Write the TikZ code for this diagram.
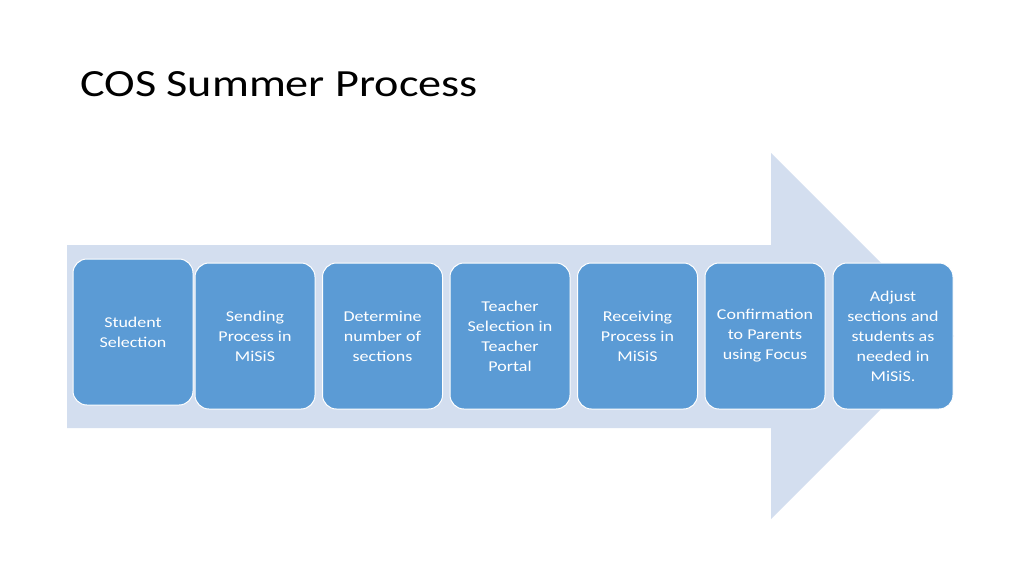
\documentclass[tikz,border=0pt]{standalone}
\usepackage{fontspec}
\setmainfont{Carlito}[FakeStretch=1.2]
\definecolor{stepblue}{RGB}{91,155,213}
\definecolor{arrowbg}{RGB}{211,222,239}

\begin{document}
\begin{tikzpicture}[x=1pt, y=-1pt,
    stepbox/.style={draw=white, line width=1pt, fill=stepblue, rounded corners=14pt,
      minimum width=120pt, minimum height=146pt, inner sep=0pt,
      text=white, align=center, font=\fontsize{15}{20}\selectfont}]
    \useasboundingbox (0,0) rectangle (1024,576);

    % Title
    \node[anchor=base west, inner sep=0pt, font=\fontsize{38.5}{46}\selectfont] (title) at (80,96) {COS Summer Process};

    % Background arrow
    \fill[arrowbg] (67,245) -- (771,245) -- (771,153) -- (954,336) -- (771,519) -- (771,428) -- (67,428) -- cycle;

    % Process steps
    \node[stepbox] (s1) at (133,332) {Student\\Selection};
    \node[stepbox] (s2) at (255,336) {Sending\\Process in\\MiSiS};
    \node[stepbox] (s3) at (382.5,336) {Determine\\number of\\sections};
    \node[stepbox] (s4) at (510,336) {Teacher\\Selection in\\Teacher\\Portal};
    \node[stepbox] (s5) at (637.5,336) {Receiving\\Process in\\MiSiS};
    \node[stepbox] (s6) at (765,336) {Confirmation\\to Parents\\using Focus};
    \node[stepbox] (s7) at (893,336) {Adjust\\sections and\\students as\\needed in\\MiSiS.};
\end{tikzpicture}
\end{document}
